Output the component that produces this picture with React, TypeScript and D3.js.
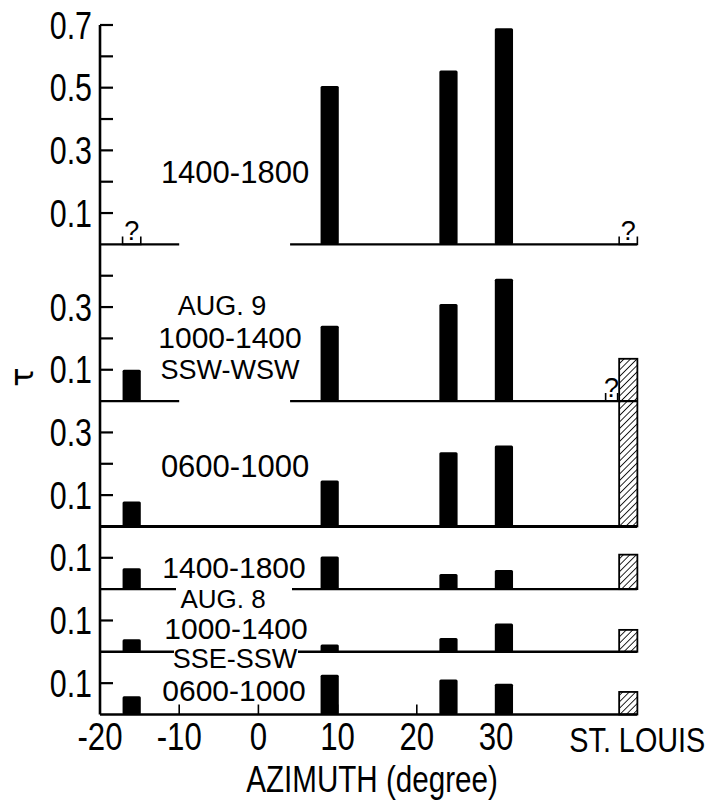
import React from 'react';
import * as d3 from 'd3';

// azimuth of the four sites (degrees) and the St. Louis column
const azimuths = [-16, 9, 24, 31];
const stLouisAz = 46.7;

// six stacked panels, top to bottom, and the tau range each one spans
const panelMax = [0.7, 0.5, 0.4, 0.2, 0.2, 0.2];

// tau at each azimuth, one row per panel (null = no data)
const tauValues = [
  [null, 0.505, 0.555, 0.69],
  [0.1, 0.24, 0.31, 0.39],
  [0.08, 0.147, 0.237, 0.258],
  [0.067, 0.104, 0.048, 0.061],
  [0.04, 0.023, 0.044, 0.09],
  [0.058, 0.127, 0.112, 0.098],
];
const stLouisValues = [null, null, 0.535, 0.11, 0.07, 0.072];

// "?" marks: [panel, azimuth]
const unknownMarks = [[0, -16], [0, 46.7], [1, 44.6]];

// where each panel has observations (azimuth ranges of its base line)
const coverage = [
  [[-20, -10], [4, 47.8]],
  [[-20, -10], [4, 47.8]],
  [[-20, 47.8]],
  [[-20, 47.8]],
  [[-20, 47.8]],
  [[-20, 47.8]],
];

const xTicks = [-20, -10, 0, 10, 20, 30];

const font = "'Liberation Sans', Arial, sans-serif";

// condensed lettering: squeeze Liberation Sans horizontally
const NText = ({ x, y, size, anchor = 'middle', squeeze = 0.8, dy, children }) => (
  <text transform={`translate(${x},${y}) scale(${squeeze},1)`} dy={dy} textAnchor={anchor}
    fontFamily={font} fontSize={size}>
    {children}
  </text>
);

const App = () => {
  const width = 710, height = 803;
  const x = d3.scaleLinear().domain([-20, 30]).range([100, 496]);
  const y = d3.scaleLinear().domain([0, d3.sum(panelMax)]).range([714.5, 25]);
  const offsets = panelMax.map((d, i) => d3.sum(panelMax.slice(i + 1)));
  const barW = x(1.15) - x(-1.15);

  const yOf = (p, v) => y(offsets[p] + v);

  return (
    <div style={{ position: 'absolute', left: 0, top: 0 }}>
      <svg width={width} height={height} style={{ display: 'block', background: '#fff' }}>
        <defs>
          <pattern id="hatch" width="4.6" height="4.6" patternUnits="userSpaceOnUse" patternTransform="rotate(45)">
            <line x1="0" y1="0" x2="0" y2="4.6" stroke="#000" strokeWidth="1.7" />
          </pattern>
        </defs>

        {/* base lines */}
        {coverage.map((segs, p) =>
          segs.map((s, j) => (
            <line key={`b${p}-${j}`} x1={x(s[0])} x2={x(s[1])} y1={yOf(p, 0)} y2={yOf(p, 0)}
              stroke="#000" strokeWidth={p === 2 ? 3 : 2.4} />
          ))
        )}

        {/* y axis */}
        <line x1={x(-20)} x2={x(-20)} y1={y(d3.sum(panelMax))} y2={y(0)} stroke="#000" strokeWidth="2.6" />
        {panelMax.map((max, p) => {
          const ks = d3.range(1, Math.round(max * 10) + (p === 0 ? 1 : 0));
          return ks.map(k => {
            const v = k / 10;
            const yy = yOf(p, v);
            return (
              <g key={`t${p}-${k}`}>
                <line x1={x(-20)} x2={x(-20) + 13} y1={yy} y2={yy} stroke="#000" strokeWidth="2.2" />
                {k % 2 === 1 && (
                  <NText x={x(-20) - 8} y={yy} dy="0.36em" anchor="end" size={38}>
                    {d3.format('.1f')(v)}
                  </NText>
                )}
              </g>
            );
          });
        })}

        {/* x axis ticks */}
        {xTicks.map(t => (
          <g key={`x${t}`}>
            {t > -20 && <line x1={x(t)} x2={x(t)} y1={y(0)} y2={y(0) - 10} stroke="#000" strokeWidth="1.6" />}
            <NText x={x(t)} y={750} size={39}>{t < 0 ? `-${-t}` : t}</NText>
          </g>
        ))}
        <NText x={x(stLouisAz) + 9} y={752} size={36}>ST. LOUIS</NText>
        <NText x={372} y={792} size={37}>AZIMUTH (degree)</NText>
        <text transform="translate(22,377) rotate(-90)" textAnchor="middle" dominantBaseline="central"
          fontFamily="'DejaVu Sans', sans-serif" fontSize="32">τ</text>

        {/* bars */}
        {tauValues.map((row, p) =>
          row.map((v, i) => v == null ? null : (
            <rect key={`r${p}-${i}`} x={x(azimuths[i]) - barW / 2} y={yOf(p, v)} width={barW}
              height={yOf(p, 0) - yOf(p, v)} fill="#000" rx="1.5" />
          ))
        )}
        {stLouisValues.map((v, p) => v == null ? null : (
          <rect key={`s${p}`} x={x(stLouisAz) - barW / 2} y={yOf(p, v)} width={barW}
            height={yOf(p, 0) - yOf(p, v)} fill="url(#hatch)" stroke="#000" strokeWidth="1.8" />
        ))}

        {/* unknown values */}
        {unknownMarks.map(([p, az], i) => {
          const cx = x(az), base = yOf(p, 0), half = p === 1 ? 6 : barW / 2;
          return (
            <g key={`q${i}`}>
              <path d={`M${cx - half},${base - 8}V${base}H${cx + half}V${base - 8}`} fill="none" stroke="#000" strokeWidth="1.6" />
              <text x={cx} y={base - 4} textAnchor="middle" fontFamily={font} fontSize="27">?</text>
            </g>
          );
        })}

        {/* panel labels */}
        <g fontFamily={font} fontSize="30" textAnchor="middle">
          <text x={235} y={183} fontSize="31">1400-1800</text>
          <text x={222} y={315} fontSize="27">AUG. 9</text>
          <text x={230} y={348}>1000-1400</text>
          <text x={230} y={379} fontSize="27">SSW-WSW</text>
          <text x={235} y={477} fontSize="31">0600-1000</text>
          <text x={234} y={578}>1400-1800</text>
          <rect x={176} y={yOf(3, 0) - 3} width={116} height={7} fill="#fff" />
          <text x={223} y={608} fontSize="26">AUG. 8</text>
          <text x={236} y={639}>1000-1400</text>
          <rect x={174} y={yOf(4, 0) - 3} width={124} height={7} fill="#fff" />
          <text x={235} y={668} fontSize="27">SSE-SSW</text>
          <text x={234} y={701}>0600-1000</text>
        </g>
      </svg>
    </div>
  );
};

export default App;
